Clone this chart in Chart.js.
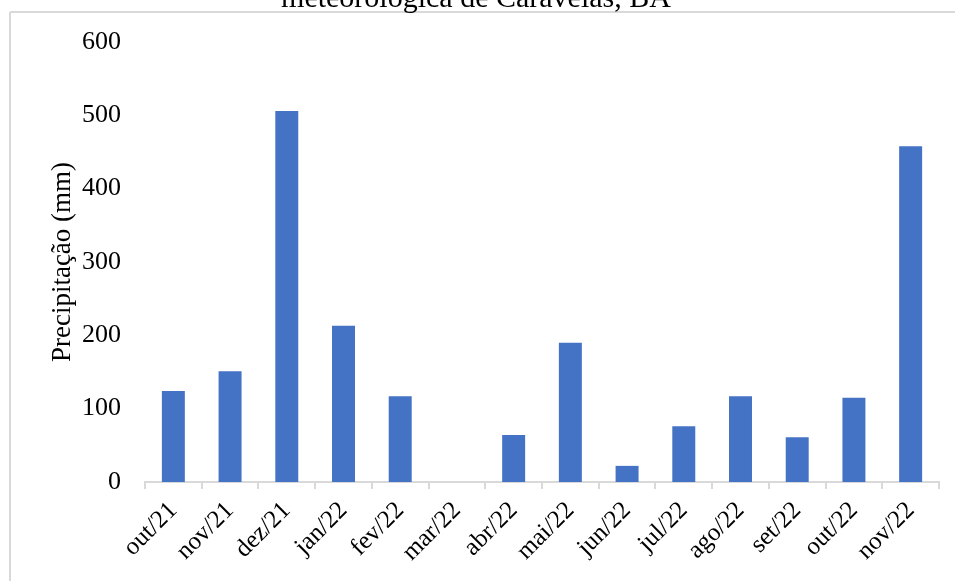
<!DOCTYPE html>
<html>
<head>
<meta charset="utf-8">
<script src="https://cdn.jsdelivr.net/npm/chart.js@4/dist/chart.umd.min.js"></script>
<style>
  html, body { margin: 0; padding: 0; background: #ffffff; }
  #wrap { width: 955px; height: 581px; position: relative; }
</style>
</head>
<body>
<div id="wrap"><canvas id="chart" width="955" height="581"></canvas></div>
<script>
// Monthly rainfall, Caravelas (BA)
const months = ['out/21', 'nov/21', 'dez/21', 'jan/22', 'fev/22', 'mar/22', 'abr/22',
                'mai/22', 'jun/22', 'jul/22', 'ago/22', 'set/22', 'out/22', 'nov/22'];
const rainfall = [124, 151, 506, 213, 117, 0, 64, 190, 22, 76, 117, 61, 115, 458];
const yTicks = [0, 100, 200, 300, 400, 500, 600];
const titleText = 'meteorológica de Caravelas, BA';
const yTitle = 'Precipitação (mm)';

const SERIF = '"Liberation Serif", "Times New Roman", serif';
const FRAME = '#d9d9d9';

// Outer frame and the heading line above the plot
const framePlugin = {
  id: 'frame',
  beforeDraw(chart) {
    const ctx = chart.ctx;
    ctx.save();
    ctx.fillStyle = '#ffffff';
    ctx.fillRect(0, 0, chart.width, chart.height);
    ctx.strokeStyle = FRAME;
    ctx.lineWidth = 2;
    ctx.beginPath();
    ctx.moveTo(10, 12);
    ctx.lineTo(chart.width, 12);
    ctx.moveTo(10, 12);
    ctx.lineTo(10, chart.height);
    ctx.stroke();
    ctx.fillStyle = '#000000';
    ctx.font = '30px ' + SERIF;
    ctx.textAlign = 'center';
    ctx.textBaseline = 'alphabetic';
    ctx.fillText(titleText, 476, 7);
    ctx.restore();
  }
};

new Chart(document.getElementById('chart'), {
  type: 'bar',
  data: {
    labels: months,
    datasets: [{
      data: rainfall,
      backgroundColor: '#4472C4',
      borderWidth: 0,
      categoryPercentage: 1,
      barPercentage: 0.405
    }]
  },
  options: {
    responsive: false,
    animation: false,
    events: [],
    layout: { padding: { top: 42, right: 16, left: 0, bottom: 0 } },
    plugins: {
      legend: { display: false },
      tooltip: { enabled: false },
      title: { display: false }
    },
    scales: {
      x: {
        grid: {
          display: true,
          drawOnChartArea: false,
          drawTicks: true,
          tickLength: 7,
          color: FRAME,
          lineWidth: 2,
          offset: true
        },
        border: { display: true, color: FRAME, width: 2 },
        ticks: {
          color: '#000000',
          font: { family: SERIF, size: 25 },
          minRotation: 45,
          maxRotation: 45,
          autoSkip: false,
          padding: 7
        },
        afterFit(scale) { scale.height = 99; }
      },
      y: {
        min: 0,
        max: 600,
        afterBuildTicks(scale) { scale.ticks = yTicks.map(v => ({ value: v })); },
        grid: { display: false, drawTicks: false },
        border: { display: false },
        ticks: {
          color: '#000000',
          font: { family: SERIF, size: 26 },
          padding: 24
        },
        title: {
          display: true,
          text: yTitle,
          color: '#000000',
          font: { family: SERIF, size: 27 },
          padding: { top: 47, bottom: 0 }
        },
        afterFit(scale) { scale.width = 145; }
      }
    }
  },
  plugins: [framePlugin]
});
</script>
</body>
</html>
